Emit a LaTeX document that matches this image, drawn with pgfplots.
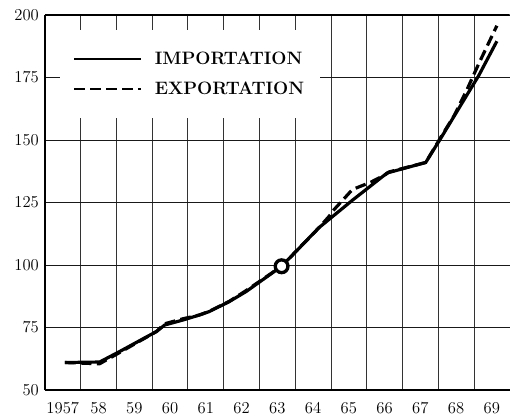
\documentclass[border=0pt]{standalone}
\usepackage{pgfplots}
\pgfplotsset{compat=1.18}

% values (index, 1963 = 100)
\newcommand{\importdata}{(1957.06,61) (1958.03,61.2) (1958.59,65.4) (1959.62,73.4)
  (1959.85,76) (1960.36,78) (1960.82,80) (1961.10,81.4) (1961.66,85.4)
  (1962.13,89.4) (1963.12,99.5) (1964.17,115) (1965.10,125.9) (1966.07,136.8)
  (1967.15,141) (1967.61,151.6) (1968.29,167.7) (1968.63,175.7) (1969.14,189.5)}
\newcommand{\exportdata}{(1957.06,61) (1958.03,60.5) (1958.59,65) (1959.62,73.4)
  (1959.85,76.5) (1960.36,78.5) (1960.82,80) (1961.10,81.5) (1961.66,85.5)
  (1962.13,89.8) (1963.12,99.5) (1964.17,115) (1964.45,119.5) (1964.59,122.2)
  (1965.10,130.2) (1965.61,133.1) (1966.03,136.2) (1966.12,137.2) (1967.15,141)
  (1967.61,152) (1967.94,159.6) (1968.29,169.7) (1968.63,180.4) (1969.14,195.7)}

\begin{document}
\begin{tikzpicture}
\begin{axis}[
  scale only axis, width=349.5pt, height=282pt,
  xmin=1956.5, xmax=1969.5, ymin=50, ymax=200,
  axis x line*=bottom, axis y line*=left,
  axis line style={line width=1.9pt, -},
  xtick={1957,...,1969},
  xticklabels={1957,58,59,60,61,62,63,64,65,66,67,68,69},
  minor xtick={1957.5,1958.5,...,1968.5},
  ytick={50,75,100,125,150,175,200},
  yticklabels={50,75,100,125,150,175,200},
  major tick length=0pt, minor tick length=0pt,
  xminorgrids, ymajorgrids,
  minor grid style={black!80, line width=0.65pt},
  major grid style={black!90, line width=0.65pt},
  ticklabel style={font=\fontsize{12.5}{14}\selectfont},
  xticklabel style={yshift=-5.5pt},
  yticklabel style={xshift=-1pt},
  legend cell align=left,
  legend style={at={(rel axis cs:0.032,0.96)}, anchor=north west,
    fill=white, draw=none, inner xsep=10pt, inner ysep=14pt, row sep=8pt,
    font=\fontsize{13.5}{15}\selectfont\bfseries,
    /tikz/every odd column/.append style={column sep=8pt}},
  legend image code/.code={\draw[#1, line width=1.3pt] (0pt,0pt) -- (50pt,0pt);},
]
\addplot[black, line width=2.4pt] coordinates {\importdata};
\addlegendentry{IMPORTATION}
\addplot[black, line width=2.4pt, dash pattern=on 8pt off 4pt] coordinates {\exportdata};
\addlegendentry{EXPORTATION}
\addplot[forget plot, only marks, mark=*, mark size=4.8pt,
  mark options={fill=white, draw=black, line width=2.5pt}] coordinates {(1963.12,99.5)};
\draw[line width=1.9pt] (rel axis cs:0,1) -- (rel axis cs:1,1);
\end{axis}
\path (current axis.south west) ++(-33.75pt,-22.5pt);
\path (current axis.north east) ++(0pt,11.25pt);
\end{tikzpicture}
\end{document}
